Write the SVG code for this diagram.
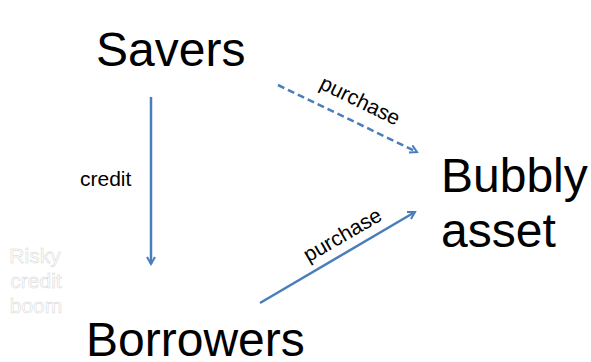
<svg xmlns="http://www.w3.org/2000/svg" width="591" height="362" viewBox="0 0 591 362">
<style>
.big{font-family:"Liberation Sans",Arial,sans-serif;font-size:48px;fill:#000}
.lbl{font-family:"Liberation Sans",Arial,sans-serif;font-size:21px;fill:#000}
.ghost{font-family:"Liberation Sans",Arial,sans-serif;font-size:21px;fill:#fff;stroke:#d4d4d4;stroke-width:0.5;text-anchor:middle}
.edge{stroke:#4a7ebb;stroke-width:2.5;fill:none;marker-end:url(#ah)}
</style>
<defs>
<marker id="ah" viewBox="0 0 10 10" refX="8" refY="5" markerWidth="4" markerHeight="4" orient="auto" markerUnits="strokeWidth">
<path d="M1,1 L8,5 L1,9" fill="none" stroke="#4a7ebb" stroke-width="2" stroke-linejoin="miter"/>
</marker>
</defs>
<rect width="591" height="362" fill="#fff"/>
<g id="connectors">
<line class="edge" x1="151" y1="97" x2="151" y2="264"/>
<line class="edge" x1="278" y1="85" x2="417" y2="152" stroke-dasharray="7,4"/>
<line class="edge" x1="260" y1="303" x2="415" y2="212"/>
<text class="lbl" x="80" y="186">credit</text>
<text class="lbl" text-anchor="middle" transform="translate(357,107) rotate(26)">purchase</text>
<text class="lbl" text-anchor="middle" transform="translate(346,241) rotate(-30)">purchase</text>
</g>
<g id="savers"><text class="big" x="96" y="66">Savers</text></g>
<g id="bubbly"><text class="big" x="441" y="192">Bubbly</text><text class="big" x="441" y="247">asset</text></g>
<g id="borrowers"><text class="big" x="86" y="356">Borrowers</text></g>
<g id="risky"><text class="ghost" x="35" y="263">Risky</text><text class="ghost" x="36" y="288">credit</text><text class="ghost" x="36" y="313">boom</text></g>
</svg>
